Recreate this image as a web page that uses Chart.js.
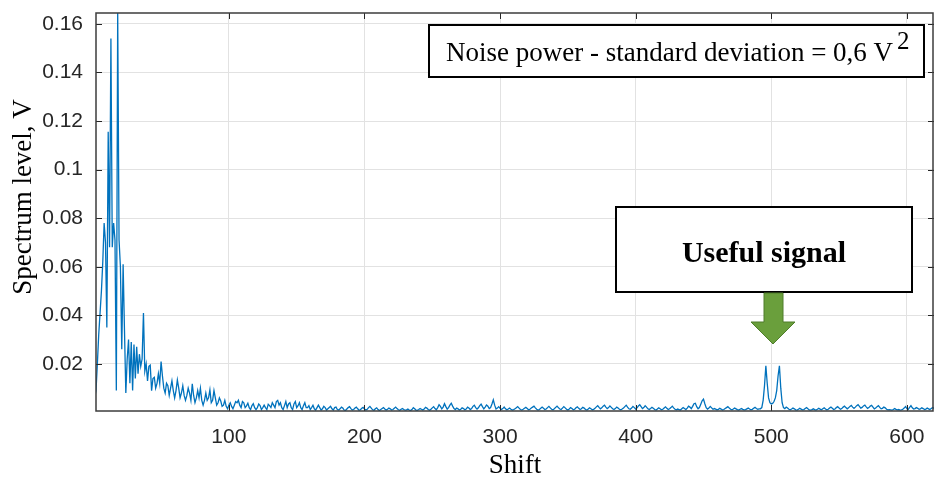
<!DOCTYPE html>
<html>
<head>
<meta charset="utf-8">
<script src="https://cdn.jsdelivr.net/npm/chart.js@4/dist/chart.umd.min.js"></script>
<style>
  html, body { margin: 0; padding: 0; background: #fff; }
  #wrap { width: 934px; height: 480px; }
</style>
</head>
<body>
<div id="wrap"><canvas id="spectrum"></canvas></div>
<script>
// shift of the first sample, then one sample per shift (1, 2, 3 ...)
const firstShift = 1;
const spectrum = [
  0.006, 0.009, 0.020, 0.032, 0.041, 0.050, 0.062, 0.078, 0.070, 0.035,
  0.1156, 0.068, 0.154, 0.068, 0.078, 0.071, 0.009, 0.1645, 0.071, 0.060,
  0.026, 0.061, 0.034, 0.008, 0.022, 0.030, 0.012, 0.029, 0.009, 0.028,
  0.014, 0.027, 0.016, 0.024, 0.019, 0.022, 0.041, 0.017, 0.020, 0.013,
  0.019, 0.0195, 0.009, 0.014, 0.0145, 0.010, 0.012, 0.016, 0.012, 0.021,
  0.015, 0.010, 0.008, 0.012, 0.011, 0.007, 0.010, 0.013, 0.009, 0.006,
  0.009, 0.0134, 0.010, 0.006, 0.008, 0.011, 0.007, 0.005, 0.007, 0.010,
  0.008, 0.005, 0.0118, 0.007, 0.004, 0.006, 0.009, 0.006, 0.010, 0.005,
  0.003, 0.005, 0.008, 0.005, 0.006, 0.0093, 0.004, 0.005, 0.009, 0.006,
  0.003, 0.004, 0.006, 0.0047, 0.0025, 0.003, 0.005, 0.0025, 0.0015, 0.003,
  0.004, 0.0025, 0.0015, 0.003, 0.0045, 0.004, 0.005, 0.003, 0.002, 0.0045,
  0.004, 0.002, 0.0027, 0.0038, 0.002, 0.0012, 0.0028, 0.0036, 0.002, 0.0012,
  0.002, 0.0035, 0.0028, 0.0012, 0.002, 0.003, 0.002, 0.0012, 0.0034, 0.0028,
  0.002, 0.004, 0.003, 0.002, 0.0045, 0.005, 0.003, 0.004, 0.002, 0.0012,
  0.0028, 0.0045, 0.002, 0.0035, 0.004, 0.002, 0.0012, 0.0035, 0.0045, 0.002,
  0.0028, 0.004, 0.002, 0.0012, 0.0028, 0.004, 0.002, 0.002, 0.0028, 0.0012,
  0.002, 0.003, 0.0015, 0.001, 0.002, 0.003, 0.002, 0.001, 0.0015, 0.0025,
  0.002, 0.001, 0.0015, 0.002, 0.0025, 0.0015, 0.001, 0.002, 0.0022, 0.0012,
  0.0010, 0.0015, 0.0022, 0.0018, 0.0010, 0.0008, 0.0014, 0.0020, 0.0024, 0.0016,
  0.0010, 0.0012, 0.0018, 0.0022, 0.0015, 0.0009, 0.0011, 0.0017, 0.0021, 0.0014,
  0.0010, 0.0013, 0.0020, 0.0025, 0.0018, 0.0011, 0.0009, 0.0015, 0.0019, 0.0012,
  0.0008, 0.0012, 0.0016, 0.0020, 0.0014, 0.0010, 0.0013, 0.0018, 0.0015, 0.0010,
  0.0012, 0.0017, 0.0022, 0.0016, 0.0011, 0.0009, 0.0013, 0.0016, 0.0012, 0.0010,
  0.0011, 0.0014, 0.0010, 0.0008, 0.0012, 0.0020, 0.0015, 0.0010, 0.0009, 0.0012,
  0.0016, 0.0013, 0.0010, 0.0014, 0.0021, 0.0018, 0.0012, 0.0009, 0.0013, 0.0019,
  0.0024, 0.0016, 0.0011, 0.0020, 0.0032, 0.0025, 0.0015, 0.0022, 0.0036, 0.0024,
  0.0014, 0.0020, 0.0030, 0.0038, 0.0026, 0.0016, 0.0012, 0.0018, 0.0015, 0.0010,
  0.0013, 0.0019, 0.0016, 0.0011, 0.0014, 0.0022, 0.0018, 0.0012, 0.0016, 0.0025,
  0.0030, 0.0020, 0.0014, 0.0019, 0.0028, 0.0034, 0.0024, 0.0015, 0.0022, 0.0031,
  0.0026, 0.0016, 0.0020, 0.0035, 0.0052, 0.0030, 0.0014, 0.0018, 0.0024, 0.0017,
  0.0012, 0.0016, 0.0022, 0.0015, 0.0011, 0.0014, 0.0018, 0.0013, 0.0010, 0.0012,
  0.0015, 0.0019, 0.0024, 0.0018, 0.0012, 0.0010, 0.0013, 0.0017, 0.0021, 0.0016,
  0.0011, 0.0013, 0.0018, 0.0022, 0.0026, 0.0019, 0.0013, 0.0010, 0.0012, 0.0017,
  0.0022, 0.0017, 0.0012, 0.0014, 0.0020, 0.0025, 0.0019, 0.0013, 0.0011, 0.0015,
  0.0021, 0.0026, 0.0020, 0.0014, 0.0012, 0.0018, 0.0024, 0.0019, 0.0013, 0.0010,
  0.0014, 0.0020, 0.0016, 0.0011, 0.0013, 0.0019, 0.0023, 0.0017, 0.0012, 0.0015,
  0.0021, 0.0018, 0.0012, 0.0010, 0.0014, 0.0019, 0.0015, 0.0011, 0.0013, 0.0017,
  0.0023, 0.0028, 0.0021, 0.0015, 0.0019, 0.0026, 0.0030, 0.0022, 0.0016, 0.0020,
  0.0027, 0.0021, 0.0015, 0.0012, 0.0016, 0.0022, 0.0018, 0.0013, 0.0011, 0.0014,
  0.0018, 0.0024, 0.0030, 0.0022, 0.0015, 0.0013, 0.0018, 0.0025, 0.0020, 0.0014,
  0.0019, 0.0027, 0.0032, 0.0024, 0.0016, 0.0020, 0.0028, 0.0022, 0.0015, 0.0012,
  0.0016, 0.0021, 0.0017, 0.0012, 0.0010, 0.0014, 0.0019, 0.0015, 0.0011, 0.0013,
  0.0018, 0.0023, 0.0017, 0.0012, 0.0015, 0.0020, 0.0026, 0.0019, 0.0013, 0.0011,
  0.0014, 0.0012, 0.0010, 0.0015, 0.0020, 0.0016, 0.0012, 0.0018, 0.0026, 0.0022,
  0.0016, 0.0025, 0.0036, 0.0038, 0.0024, 0.0015, 0.0020, 0.0034, 0.0048, 0.0055,
  0.0036, 0.0020, 0.0014, 0.0018, 0.0025, 0.0019, 0.0013, 0.0016, 0.0014, 0.0011,
  0.0013, 0.0017, 0.0014, 0.0010, 0.0012, 0.0016, 0.0020, 0.0024, 0.0018, 0.0013,
  0.0011, 0.0014, 0.0018, 0.0015, 0.0012, 0.0010, 0.0013, 0.0016, 0.0013, 0.0011,
  0.0012, 0.0015, 0.0018, 0.0014, 0.0011, 0.0013, 0.0017, 0.0021, 0.0016, 0.0013,
  0.0015, 0.0015, 0.0020, 0.0050, 0.0110, 0.0192, 0.0120, 0.0060, 0.0040, 0.0035,
  0.0037, 0.0045, 0.0060, 0.0090, 0.0150, 0.0192, 0.0100, 0.0040, 0.0020, 0.0016,
  0.0022, 0.0018, 0.0013, 0.0011, 0.0014, 0.0018, 0.0015, 0.0011, 0.0010, 0.0013,
  0.0017, 0.0014, 0.0011, 0.0012, 0.0016, 0.0020, 0.0015, 0.0011, 0.0010, 0.0012,
  0.0015, 0.0012, 0.0010, 0.0013, 0.0017, 0.0014, 0.0011, 0.0015, 0.0019, 0.0014,
  0.0011, 0.0013, 0.0018, 0.0022, 0.0017, 0.0012, 0.0014, 0.0020, 0.0024, 0.0018,
  0.0013, 0.0016, 0.0022, 0.0026, 0.0020, 0.0015, 0.0019, 0.0025, 0.0029, 0.0022,
  0.0017, 0.0022, 0.0028, 0.0032, 0.0025, 0.0018, 0.0021, 0.0027, 0.0030, 0.0023,
  0.0017, 0.0020, 0.0026, 0.0029, 0.0022, 0.0015, 0.0018, 0.0024, 0.0028, 0.0021,
  0.0015, 0.0017, 0.0022, 0.0019, 0.0013, 0.0011, 0.0012, 0.0011, 0.0010, 0.0012,
  0.0016, 0.0013, 0.0011, 0.0012, 0.0010, 0.0011, 0.0013, 0.0018, 0.0024, 0.0016,
  0.0013, 0.0021, 0.0028, 0.0019, 0.0014, 0.0016, 0.0020, 0.0017, 0.0013, 0.0015,
  0.0019, 0.0016, 0.0012, 0.0014, 0.0018, 0.0015, 0.0012, 0.0016, 0.0020, 0.0017
];
const xTicks = [100, 200, 300, 400, 500, 600];
const yTicks = [0.02, 0.04, 0.06, 0.08, 0.1, 0.12, 0.14, 0.16];
const xRange = [2, 620];
const yRange = [0.0006, 0.1645];
const yTitle = 'Spectrum level, V';

const points = spectrum.map((v, i) => ({ x: firstShift + i, y: v }));

const tickFont = { family: "'Liberation Sans', Arial, sans-serif", size: 21 };
const titleFont = { family: "'Liberation Serif', 'Times New Roman', serif", size: 27 };

// MATLAB style: full box, ticks pointing inward, y title, the two text boxes + arrow
const boxAndNotes = {
  id: 'boxAndNotes',
  afterDraw(chart) {
    const ctx = chart.ctx;
    const a = chart.chartArea;
    const xs = chart.scales.x, ys = chart.scales.y;
    ctx.save();
    ctx.strokeStyle = '#262626';
    ctx.lineWidth = 1;
    ctx.beginPath();
    xTicks.forEach(t => {
      const px = Math.round(xs.getPixelForValue(t)) + 0.5;
      ctx.moveTo(px, a.bottom); ctx.lineTo(px, a.bottom - 6);
      ctx.moveTo(px, a.top); ctx.lineTo(px, a.top + 6);
    });
    yTicks.forEach(t => {
      const py = Math.round(ys.getPixelForValue(t)) + 0.5;
      ctx.moveTo(a.left, py); ctx.lineTo(a.left + 6, py);
      ctx.moveTo(a.right, py); ctx.lineTo(a.right - 6, py);
    });
    ctx.stroke();
    ctx.strokeStyle = '#3c3c3c';
    ctx.lineWidth = 1.5;
    ctx.strokeRect(a.left, a.top, a.right - a.left - 1, a.bottom - a.top);

    // y axis title, sits a bit above the middle of the axis
    ctx.fillStyle = '#000';
    ctx.font = "27px 'Liberation Serif', serif";
    ctx.textAlign = 'center';
    ctx.textBaseline = 'middle';
    ctx.translate(24, 197);
    ctx.rotate(-Math.PI / 2);
    ctx.fillText(yTitle, 0, 0);
    ctx.setTransform(1, 0, 0, 1, 0, 0);

    // noise power note
    ctx.fillStyle = '#fff';
    ctx.fillRect(429, 25, 495, 52);
    ctx.strokeStyle = '#000';
    ctx.lineWidth = 2;
    ctx.strokeRect(429, 25, 495, 52);
    ctx.fillStyle = '#000';
    ctx.textBaseline = 'alphabetic';
    ctx.textAlign = 'left';
    ctx.font = "27px 'Liberation Serif', serif";
    const note = 'Noise power - standard deviation = 0,6 V';
    ctx.fillText(note, 446, 61);
    const w = ctx.measureText(note).width;
    ctx.font = "25px 'Liberation Serif', serif";
    ctx.fillText('2', 446 + w + 4, 49);

    // useful signal note
    ctx.fillStyle = '#fff';
    ctx.fillRect(616, 207, 296, 85);
    ctx.strokeStyle = '#000';
    ctx.strokeRect(616, 207, 296, 85);
    ctx.fillStyle = '#000';
    ctx.textAlign = 'center';
    ctx.font = "bold 30px 'Liberation Serif', serif";
    ctx.fillText('Useful signal', 764, 262);

    // green arrow
    ctx.fillStyle = '#6a9f3c';
    ctx.strokeStyle = '#4f7d2b';
    ctx.lineWidth = 1;
    ctx.beginPath();
    ctx.moveTo(764, 293); ctx.lineTo(783, 293); ctx.lineTo(783, 322);
    ctx.lineTo(795, 322); ctx.lineTo(773, 344); ctx.lineTo(751, 322);
    ctx.lineTo(764, 322); ctx.closePath();
    ctx.fill(); ctx.stroke();
    ctx.restore();
  }
};

const canvas = document.getElementById('spectrum');
const chart = new Chart(canvas, {
  type: 'line',
  data: {
    datasets: [{
      data: points,
      borderColor: 'rgb(0, 114, 189)',
      borderWidth: 1.3,
      pointRadius: 0,
      tension: 0,
      fill: false
    }]
  },
  options: {
    responsive: true,
    maintainAspectRatio: false,
    animation: false,
    layout: { padding: { top: 13, right: 0, bottom: 0, left: 0 } },
    plugins: { legend: { display: false }, tooltip: { enabled: false } },
    scales: {
      x: {
        type: 'linear',
        min: xRange[0],
        max: xRange[1],
        afterBuildTicks: s => { s.ticks = xTicks.map(v => ({ value: v })); },
        afterFit: s => { s.height = 69; s.paddingLeft = 0; s.paddingRight = 0; },
        grid: { color: '#e2e2e2', drawTicks: false },
        border: { display: false },
        ticks: { font: tickFont, color: '#262626', padding: 14, maxRotation: 0 },
        title: { display: true, text: 'Shift', font: titleFont, color: '#000', padding: { top: 0, bottom: -2 } }
      },
      y: {
        min: yRange[0],
        max: yRange[1],
        afterBuildTicks: s => { s.ticks = yTicks.map(v => ({ value: v })); },
        afterFit: s => { s.width = 96; s.paddingTop = 0; s.paddingBottom = 0; },
        grid: { color: '#e2e2e2', drawTicks: false },
        border: { display: false },
        ticks: { font: tickFont, color: '#262626', padding: 13, callback: v => String(+v.toFixed(2)) },
        title: { display: false }
      }
    }
  },
  plugins: [boxAndNotes]
});
</script>
</body>
</html>
